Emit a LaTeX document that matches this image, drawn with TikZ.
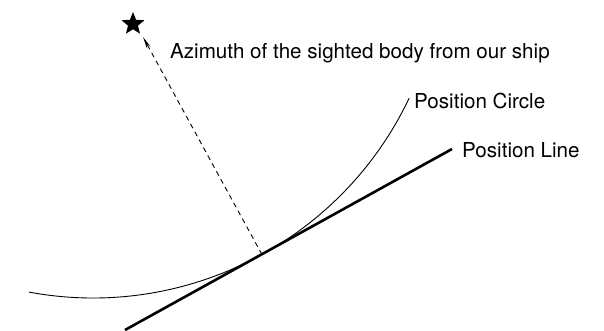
\documentclass[tikz,border=0pt]{standalone}
\usepackage{fontspec}
\setmainfont{TeX Gyre Heros}
\usetikzlibrary{arrows.meta,shapes.geometric}

\begin{document}
\begin{tikzpicture}[x=1pt,y=1pt]
\path[use as bounding box] (0,0) rectangle (604,330);
\tikzset{
  lbl/.style={anchor=west,inner sep=0pt,font=\fontsize{20.6}{22}\selectfont},
  pline/.style={line width=2.6pt},
  pcircle/.style={line width=0.9pt},
  azim/.style={line width=0.9pt,dash pattern=on 5pt off 4pt,-{Stealth[length=12pt,width=4pt]}}
}
% tangent point and circle centre
\coordinate (tang) at (262,75.4);
\coordinate (ctr) at (93,382);
\coordinate (lineA) at (125,0);
\coordinate (lineB) at (452,181);
\coordinate (tip) at (143,293);
% position line
\draw[pline] (lineA) -- (lineB);
% position circle
\draw[pcircle] (ctr) ++(259.5:350) arc[start angle=259.5,end angle=334.6,radius=350];
% azimuth towards the body
\draw[azim] (tang) -- (tip);
\node[star,star points=5,star point ratio=2.3,fill,inner sep=0pt,minimum size=24pt] (body) at (133,306) {};
% labels
\node[lbl] (azlbl) at (170,277) {Azimuth of the sighted body from our ship};
\node[lbl] (pclbl) at (414,229) {Position Circle};
\node[lbl] (pllbl) at (462,180) {Position Line};
\end{tikzpicture}
\end{document}
